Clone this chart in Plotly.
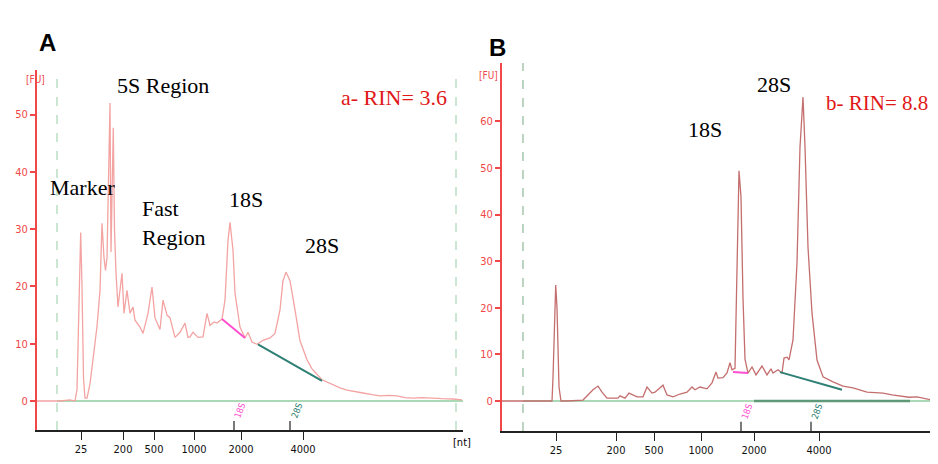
import plotly.graph_objects as go

# browser page has an 8px body margin on every side; keep the figure inside the window
OFF = 8
W, H = 938 - 2 * OFF, 464 - 2 * OFF


def px(xp):
    return (xp - OFF) / W


def py(yp):
    return 1 - (yp - OFF) / H


# ---------------- Panel A (degraded RNA, RIN 3.6) ----------------
a_pos = [0, 23, 33, 36, 38, 40, 42, 43.7, 45, 46.5,
         48, 50, 53, 56, 60, 63, 65, 67, 68.5, 70,
         72, 73, 74, 75, 76.3, 77.5, 79, 81, 85, 87,
         90, 93, 96, 98, 103, 106, 111, 115, 118, 123,
         126, 130, 133, 138, 143, 148, 151, 153, 156, 161,
         166, 170, 173, 177, 180, 185, 188, 191, 193, 196,
         198, 203, 208, 211, 215, 220, 226, 233, 238, 243,
         246, 249, 253, 258, 263, 270, 275, 285, 296, 303,
         310, 318, 326, 335, 343, 352, 360, 368, 376, 385,
         393, 405, 416, 425]
a_fu = [0, 0, 0.2, 0, 0, 2, 20, 29.4, 20, 4,
        0.5, 0.5, 3, 7.7, 13, 19.3, 31, 25, 22.8, 25,
        45, 52, 26, 35, 47.7, 30, 22.3, 16.4, 22.3, 15.3,
        19.3, 15.3, 16.4, 14.1, 12.9, 11.8, 15.3, 19.9, 14.5, 12.5,
        17.6, 15, 14.5, 11.1, 12, 13.6, 11.1, 11.2, 12, 11.1,
        11.2, 15.3, 13.2, 13.8, 13.6, 14.3, 17.6, 28, 31.2, 26.3,
        18.8, 12.9, 11, 12, 10.3, 9.9, 10.6, 11, 11.8, 15.9,
        21, 22.5, 21, 15.9, 10.5, 7.2, 5.6, 3.7, 2.8, 2.3,
        1.9, 1.7, 1.4, 1.1, 0.9, 1.0, 0.9, 0.6, 0.5, 0.6,
        0.5, 0.4, 0.35, 0.2]

# ---------------- Panel B (intact RNA, RIN 8.8) ----------------
b_pos = [0, 50, 51, 53.7, 55, 57, 59, 65, 81, 91,
         96, 100, 105, 116, 118, 123, 127, 135, 141, 145,
         150, 153, 161, 165, 171, 178, 185, 190, 193, 198,
         205, 210, 214, 216, 221, 225, 228, 230, 233, 235,
         237, 239, 241, 243, 246, 250, 254, 260, 265, 269,
         271, 276, 280, 282, 285, 287, 291, 295, 298, 301,
         303, 306, 310, 315, 321, 331, 341, 351, 358, 365,
         373, 381, 390, 398, 407, 415, 424, 428]
b_fu = [0, 0, 5, 24.9, 20, 3, 0, 0, 0.2, 2.4,
        3.2, 1.9, 0.6, 0.6, 1.1, 0.6, 1.7, 0.9, 0.9, 3.0,
        1.7, 1.9, 3.4, 1.3, 0.9, 1.5, 1.9, 3.0, 2.4, 3.0,
        2.6, 3.9, 6.2, 4.9, 5.0, 6.0, 8.2, 6.7, 7.0, 33,
        49.4, 43.8, 22, 9, 6.0, 7.3, 5.6, 7.5, 5.6, 6.9,
        6.0, 6.7, 6.0, 9.2, 9.4, 8.8, 13.1, 29.6, 54.5, 65.2,
        54.5, 33, 18.9, 8.8, 5.2, 4.1, 3.2, 2.8, 2.4, 1.9,
        1.8, 1.7, 1.3, 1.1, 0.8, 0.9, 0.5, 0.3]

# size-ladder tick positions and labels
a_tick_pos = [44, 86, 117, 157, 204, 266]
b_tick_pos = [54, 114, 152, 199, 252, 317]
tick_labels = ["25", "200", "500", "1000", "2000", "4000"]

# rRNA area baselines (start/end position and FU)
a_18s_base = ([185, 208], [14.3, 11.0])
a_28s_base = ([221, 285], [9.9, 3.5])
b_18s_base = ([231, 246], [6.2, 6.0])
b_28s_base = ([278, 340], [6.2, 2.4])

# fragment-window markers (dashed) and peak-call positions
a_window = [20, 419]
b_window = [21]
a_peak_marks = [197, 253]
b_peak_marks = [239, 309]

RED = "#f04848"
PINK_A = "#f4a3a3"
ROSE_B = "#c46e6e"
GREEN = "#8fcc9c"
DGREEN = "#5f9a78"
MAGENTA = "#ff4fd0"
TEAL = "#2e7f74"

B_END = 428  # axis units visible in panel B

fig = go.Figure()

# baselines at 0
fig.add_trace(go.Scatter(x=[a_window[0], 426], y=[0, 0], mode="lines",
                         line=dict(color=GREEN, width=1.5), xaxis="x", yaxis="y",
                         showlegend=False, hoverinfo="skip"))
fig.add_trace(go.Scatter(x=[b_window[0], B_END], y=[0, 0], mode="lines",
                         line=dict(color=GREEN, width=1.5), xaxis="x2", yaxis="y2",
                         showlegend=False, hoverinfo="skip"))
fig.add_trace(go.Scatter(x=[252, 408], y=[0, 0], mode="lines",
                         line=dict(color=DGREEN, width=2.5), xaxis="x2", yaxis="y2",
                         showlegend=False, hoverinfo="skip"))

# electropherograms
fig.add_trace(go.Scatter(x=a_pos, y=a_fu, mode="lines",
                         line=dict(color=PINK_A, width=1.3), xaxis="x", yaxis="y",
                         showlegend=False))
fig.add_trace(go.Scatter(x=b_pos, y=b_fu, mode="lines",
                         line=dict(color=ROSE_B, width=1.3), xaxis="x2", yaxis="y2",
                         showlegend=False))

# area baselines
for (xs, ys), col, xa, ya in [(a_18s_base, MAGENTA, "x", "y"), (a_28s_base, TEAL, "x", "y"),
                              (b_18s_base, MAGENTA, "x2", "y2"), (b_28s_base, TEAL, "x2", "y2")]:
    fig.add_trace(go.Scatter(x=xs, y=ys, mode="lines", line=dict(color=col, width=2),
                             xaxis=xa, yaxis=ya, showlegend=False, hoverinfo="skip"))

shapes = []
for xv in a_window:
    shapes.append(dict(type="line", xref="x", yref="y domain", x0=xv, x1=xv, y0=0, y1=1,
                       line=dict(color="#a9d6b6", width=1.2, dash="dash")))
for xv in b_window:
    shapes.append(dict(type="line", xref="x2", yref="y2 domain", x0=xv, x1=xv, y0=0, y1=1,
                       line=dict(color="#8fb89a", width=1.2, dash="dash")))
for xv in a_peak_marks:
    shapes.append(dict(type="line", xref="x", yref="y domain", x0=xv, x1=xv, y0=0, y1=0.025,
                       line=dict(color="#222", width=1.2)))
for xv in b_peak_marks:
    shapes.append(dict(type="line", xref="x2", yref="y2 domain", x0=xv, x1=xv, y0=0, y1=0.025,
                       line=dict(color="#222", width=1.2)))

SERIF = "Liberation Serif, Times New Roman, serif"
NARROW = "DejaVu Sans Condensed, Liberation Sans Narrow, Arial Narrow, sans-serif"
SANS = "Liberation Sans, Arial, sans-serif"


def ann(text, x, y, xr, yr, size=22, color="black", family=SERIF, **kw):
    d = dict(text=text, x=x, y=y, xref=xr, yref=yr, showarrow=False,
             font=dict(size=size, color=color, family=family))
    d.update(kw)
    return d


annotations = [
    ann("<b>A</b>", px(37), py(27), "paper", "paper", size=24, family=SANS),
    ann("<b>B</b>", px(497), py(32), "paper", "paper", size=24, family=SANS),
    ann("[FU]", px(24), py(72), "paper", "paper", size=10, color=RED, family=NARROW),
    ann("[FU]", px(489), py(68), "paper", "paper", size=10, color=RED, family=NARROW),
    ann("[nt]", px(462), py(451), "paper", "paper", size=11, family=NARROW),
    ann("5S Region", 126, 55.1, "x", "y"),
    ann("Marker", 45, 37.2, "x", "y"),
    ann("Fast<br>Region", 103, 31.1, "x", "y", xanchor="left", align="left"),
    ann("18S", 209, 35.1, "x", "y"),
    ann("28S", 285, 27.2, "x", "y"),
    ann("a- RIN= 3.6", 357, 52.9, "x", "y", size=22, color="#e01818"),
    ann("28S", 272, 68.0, "x2", "y2"),
    ann("18S", 203, 58.2, "x2", "y2"),
    ann("b- RIN= 8.8", 1.0, 63.9, "x2 domain", "y2", size=21, color="#e01818",
        xanchor="right"),
    ann("18S", 203, -1.8, "x", "y", size=9, color=MAGENTA, family=NARROW, textangle=-70),
    ann("28S", 260, -1.8, "x", "y", size=9, color=TEAL, family=NARROW, textangle=-70),
    ann("18S", 245, -2.4, "x2", "y2", size=9, color=MAGENTA, family=NARROW, textangle=-70),
    ann("28S", 315, -2.4, "x2", "y2", size=9, color=TEAL, family=NARROW, textangle=-70),
]

xcommon = dict(showgrid=False, zeroline=False, showline=True, linecolor="#222", linewidth=2,
               ticks="outside", ticklen=8, tickwidth=1.2, tickcolor="#222",
               tickfont=dict(family=NARROW, size=11, color="#111"), ticktext=tick_labels)
ycommon = dict(showgrid=False, zeroline=False, showline=True, linecolor=RED, linewidth=2,
               ticks="outside", ticklen=5, tickwidth=1.5, tickcolor=RED,
               tickfont=dict(family=NARROW, size=11, color=RED))

fig.update_layout(
    width=W, height=H, autosize=False,
    margin=dict(l=0, r=0, t=0, b=0),
    paper_bgcolor="white", plot_bgcolor="white",
    xaxis=dict(domain=[px(37), px(463)], range=[0, 426], anchor="y",
               tickvals=a_tick_pos, **xcommon),
    yaxis=dict(domain=[py(430), py(70)], range=[-5.06, 57.77], anchor="x",
               tickvals=[0, 10, 20, 30, 40, 50], **ycommon),
    xaxis2=dict(domain=[px(502), 1.0], range=[0, B_END], anchor="y2",
                tickvals=b_tick_pos, **xcommon),
    yaxis2=dict(domain=[py(431), py(63)], range=[-6.44, 72.53], anchor="x2",
                tickvals=[0, 10, 20, 30, 40, 50, 60], **ycommon),
    shapes=shapes,
    annotations=annotations,
)

fig.write_html("out.html")
